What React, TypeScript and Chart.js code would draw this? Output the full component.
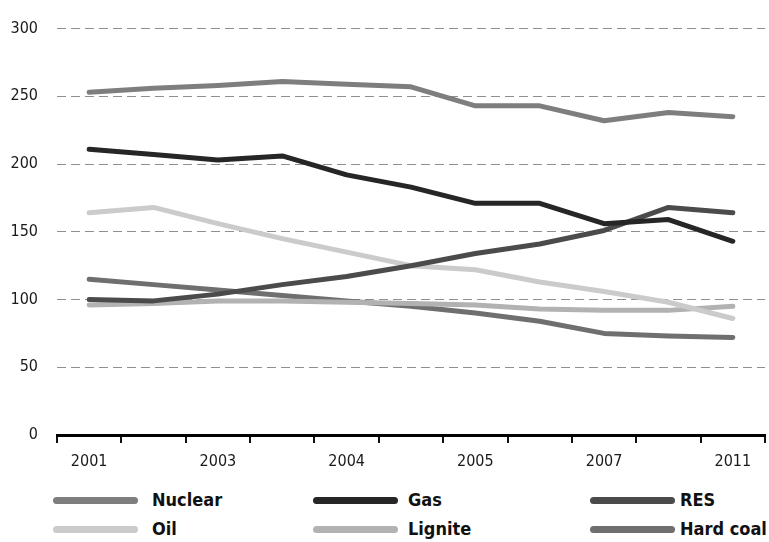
import React, { useEffect, useRef } from "react";
import { Chart, registerables } from "chart.js";

Chart.register(...registerables);

const categories = ["2001", "", "2003", "", "2004", "", "2005", "", "2007", "", "2011"];
const yTicks = [0, 50, 100, 150, 200, 250, 300];

const nuclear = [253, 256, 258, 261, 259, 257, 243, 243, 232, 238, 235];
const gas = [211, 207, 203, 206, 192, 183, 171, 171, 156, 159, 143];
const res = [100, 99, 104, 111, 117, 125, 134, 141, 151, 168, 164];
const oil = [164, 168, 156, 145, 135, 125, 122, 113, 106, 98, 86];
const lignite = [96, 97, 99, 99, 98, 97, 96, 93, 92, 92, 95];
const hardCoal = [115, 111, 107, 103, 99, 95, 90, 84, 75, 73, 72];

const seriesNames = ["Nuclear", "Gas", "RES", "Oil", "Lignite", "Hard coal"];
const seriesColors = ["#7e7e7e", "#262626", "#4b4b4b", "#cbcbcb", "#b2b2b2", "#6f6f6f"];
const seriesData = [nuclear, gas, res, oil, lignite, hardCoal];

const FONT = "'DejaVu Sans Condensed', 'DejaVu Sans', sans-serif";

const legendOrder = [0, 1, 2, 3, 4, 5];
const legendSwatchX = [53, 313, 590];
const legendTextX = [152, 408, 680];
const legendRowY = [500, 529];

export default function App() {
  const canvasRef = useRef<HTMLCanvasElement | null>(null);

  useEffect(() => {
    if (!canvasRef.current) return;
    const chart = new Chart(canvasRef.current, {
      type: "line",
      data: {
        labels: categories,
        datasets: seriesNames.map((name, i) => ({
          label: name,
          data: seriesData[i],
          borderColor: seriesColors[i],
          backgroundColor: seriesColors[i],
          borderWidth: 5,
          pointRadius: 0,
          tension: 0,
          borderCapStyle: "round" as const,
          borderJoinStyle: "round" as const,
          fill: false,
        })),
      },
      options: {
        responsive: false,
        animation: false,
        layout: { padding: { top: 25, right: 4, left: 0, bottom: 0 } },
        plugins: {
          legend: { display: false },
          tooltip: { enabled: false },
        },
        scales: {
          x: {
            type: "category",
            offset: true,
            grid: {
              display: true,
              drawOnChartArea: false,
              drawTicks: true,
              tickLength: 8,
              color: "#111",
              lineWidth: 2,
              offset: true,
            },
            border: { display: true, color: "#000", width: 3 },
            ticks: {
              autoSkip: false,
              maxRotation: 0,
              padding: 9,
              color: "#1a1a1a",
              font: { family: FONT, size: 16 },
            },
            afterFit: (scale: any) => {
              scale.height = 45;
            },
          },
          y: {
            min: 0,
            max: 300,
            afterBuildTicks: (scale: any) => {
              scale.ticks = yTicks.map((v) => ({ value: v }));
            },
            grid: {
              color: "#8f8f8f",
              lineWidth: 1,
              drawTicks: false,
            },
            border: { display: false, dash: [9, 5] },
            ticks: {
              padding: 19,
              color: "#1a1a1a",
              font: { family: FONT, size: 16 },
            },
            afterFit: (scale: any) => {
              scale.width = 57;
            },
          },
        },
      },
    });
    return () => chart.destroy();
  }, []);

  return (
    <div style={{ position: "absolute", left: 0, top: 0, width: 769, height: 542, background: "#fff", overflow: "hidden" }}>
      <canvas ref={canvasRef} width={769} height={480} style={{ position: "absolute", left: 0, top: 0 }} />
      {legendOrder.map((idx, k) => {
        const col = k % 3;
        const row = Math.floor(k / 3);
        const cy = legendRowY[row];
        return (
          <React.Fragment key={seriesNames[idx]}>
            <div
              style={{
                position: "absolute",
                left: legendSwatchX[col],
                top: cy - 3.5,
                width: 85,
                height: 7,
                borderRadius: 3.5,
                background: seriesColors[idx],
              }}
            />
            <div
              style={{
                position: "absolute",
                left: legendTextX[col],
                top: cy - 11,
                height: 22,
                lineHeight: "22px",
                fontFamily: FONT,
                fontWeight: "bold",
                fontSize: 18,
                color: "#111",
                whiteSpace: "nowrap",
              }}
            >
              {seriesNames[idx]}
            </div>
          </React.Fragment>
        );
      })}
    </div>
  );
}
